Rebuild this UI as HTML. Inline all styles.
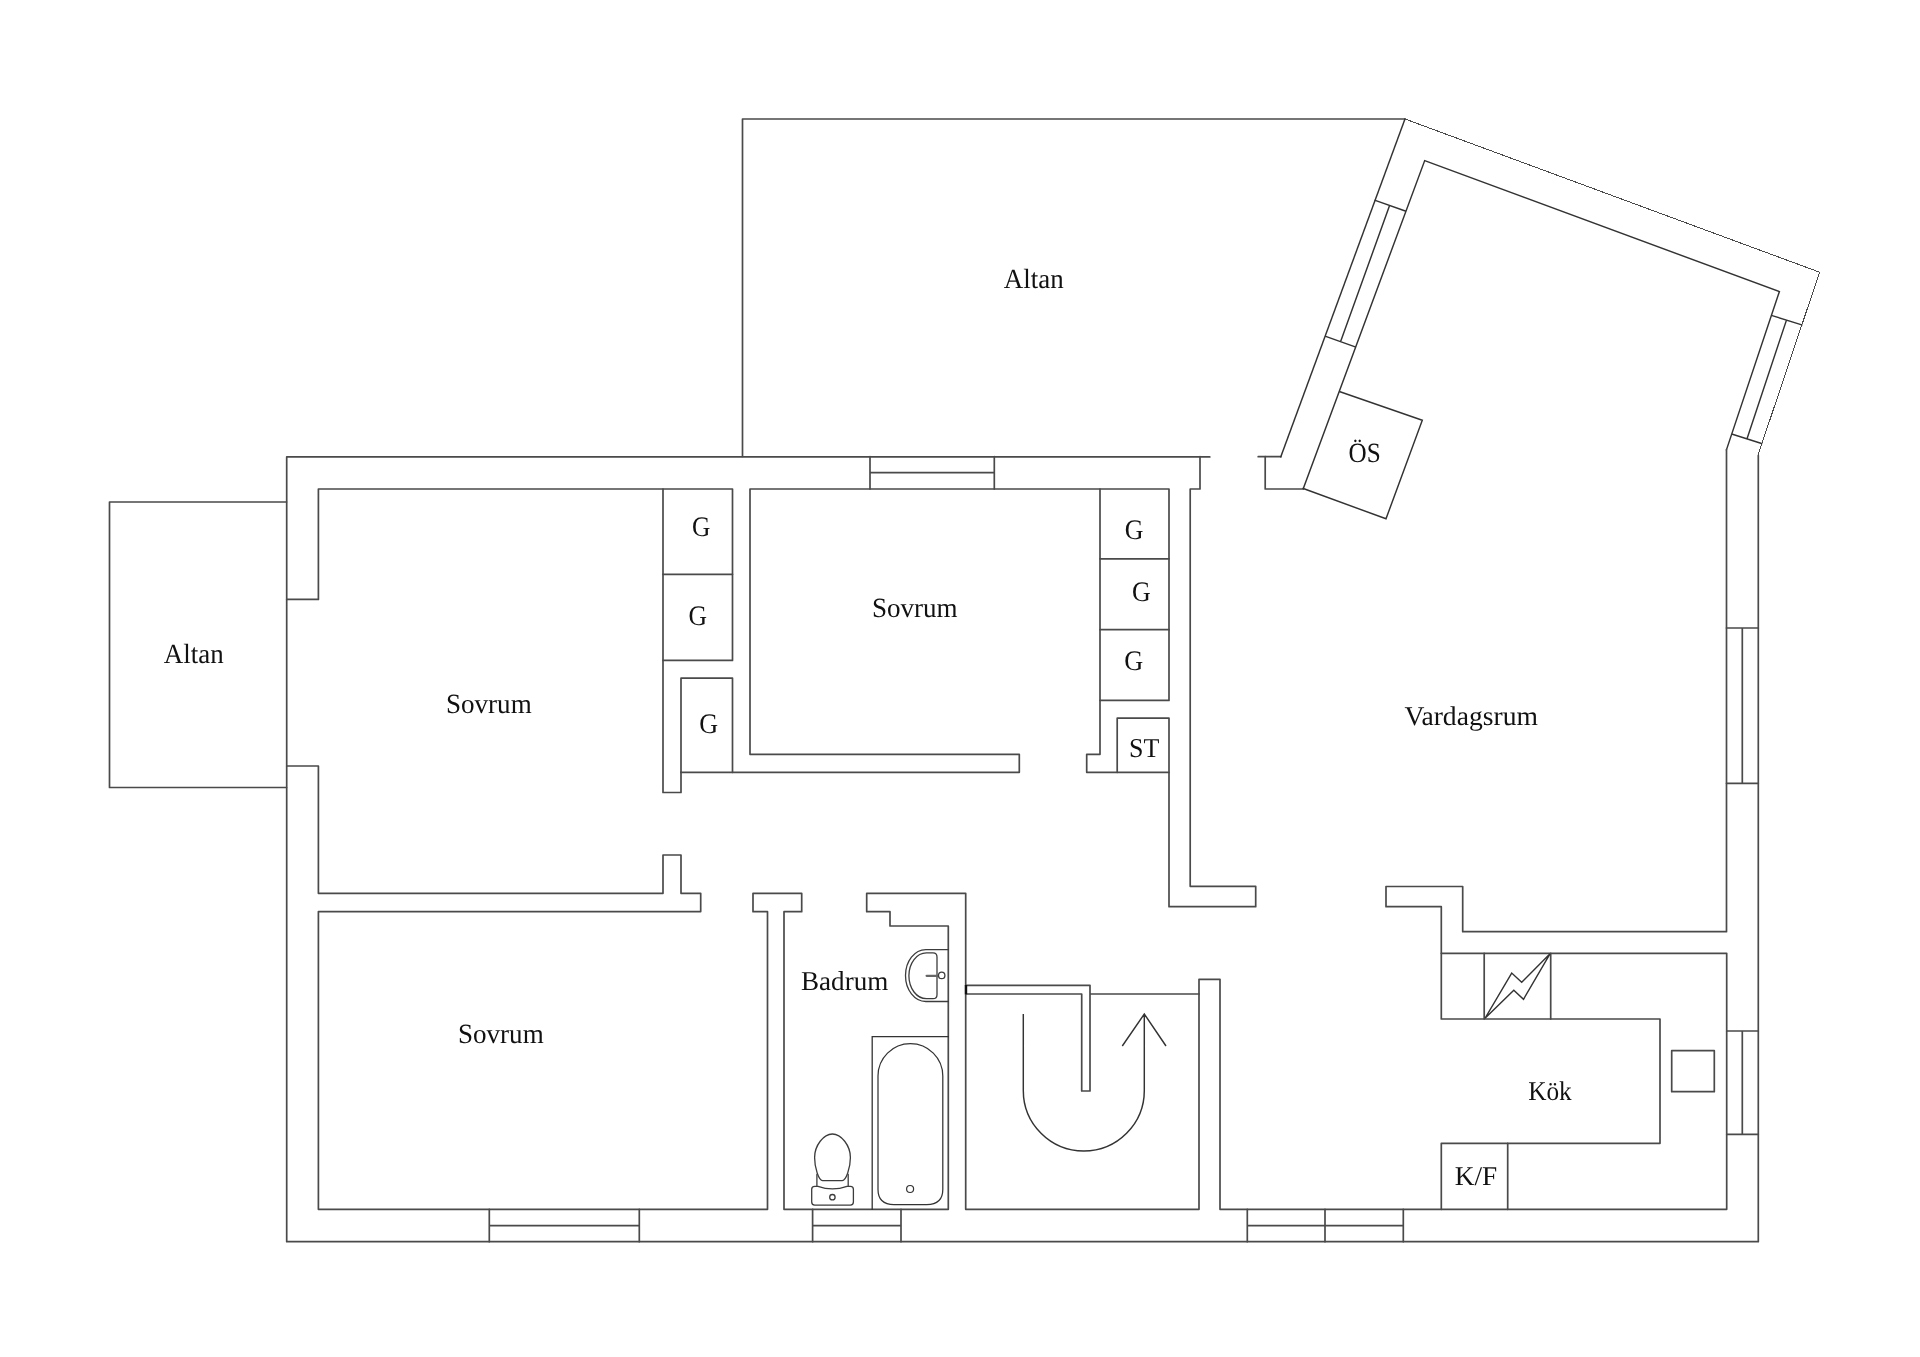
<!DOCTYPE html>
<html lang="sv">
<head>
<meta charset="utf-8">
<title>Planritning</title>
<style>
html,body{margin:0;padding:0;background:#fff;}
body{width:1920px;height:1357px;overflow:hidden;}
svg{display:block;filter:grayscale(1);}
.w{fill:none;stroke:#4a4a4a;stroke-width:1.7;stroke-linecap:round;stroke-linejoin:round;}
.a{fill:none;stroke:#333;stroke-width:1.45;stroke-linecap:square;stroke-linejoin:miter;}
.t{fill:none;stroke:#4a4a4a;stroke-width:1;stroke-linecap:butt;shape-rendering:crispEdges;}
.f{fill:none;stroke:#3c3c3c;stroke-width:1.3;stroke-linecap:round;stroke-linejoin:round;}
text{text-rendering:geometricPrecision;font-family:"Liberation Serif",serif;font-size:27px;fill:#111;}
</style>
</head>
<body>
<svg width="1920" height="1357" viewBox="0 0 1920 1357">
<rect width="1920" height="1357" fill="#fff"/>

<!-- Altan top -->
<path class="w" d="M742.5 456.5V119H1405"/>
<!-- Altan left -->
<path class="w" d="M286.5 502H109.5V787.5H286.5"/>

<!-- outer wall -->
<path class="w" d="M1209.8 456.9H286.7V1241.7H1758.3V455.4"/>
<path class="w" d="M1258.2 456.7H1280.8"/>
<path class="w" d="M1265.2 456.7V489H1303.3"/>
<path class="w" d="M1200 456.7V489H1190.2V886.3H1255.7V906.7H1169V718.2H1117.2V772.3"/>

<!-- angled walls -->
<path class="a" d="M1280.8 456.7L1405 119"/>
<path class="t" d="M1405 119L1819.6 272.2L1757.9 455.4"/>
<path class="a" d="M1303.3 488.5L1424.7 160.6L1779.4 291.6L1726.5 449.7"/>
<!-- left angled window -->
<path class="a" d="M1375.2 200.4L1405.3 211M1325.7 336.4L1355.2 346.9M1389.5 205.8L1340.6 341.6"/>
<!-- right angled window -->
<path class="a" d="M1772.1 315.6L1801.8 324.9M1732.4 434.3L1761.6 443.5M1786.4 320.3L1747 438.8"/>
<!-- ÖS box -->
<path class="a" d="M1340 391.7L1422.3 420.3L1386 518.8L1303.3 488.5"/>

<!-- room 1 (top-left bedroom) + corridor walls -->
<path class="w" d="M286.7 599.4H318.4V489H732.5V660.4H663"/>
<path class="w" d="M681 772.3V678.2H732.5V772.3"/>
<path class="w" d="M663 489V792.5H681V772.3"/>
<path class="w" d="M663 574.3H732.5"/>
<path class="w" d="M286.7 766H318.4V893.3H663V855H681V893.3H700.7V911.6H318.4V1209.3H767.5V911.7H753V893.3H801.7V911.7H784V1209.3H948.3V926H890V911.7H866.7V893.3H965.7V1209.3H1199V979.3H1220V1209.3H1726.7V953.3H1441.3"/>
<!-- middle bedroom -->
<path class="w" d="M1100 700.4H1169V489H750V754.3H1019.3V772.3H681"/>
<path class="w" d="M1100 489V754.3H1086.7V772.3H1169"/>
<path class="w" d="M1100 558.8H1169M1100 629.7H1169"/>
<!-- living room -->
<path class="w" d="M1726.5 449.7V931.7H1462.7V886.5H1386V906.7H1441.3V1019H1660V1143.3H1441.3V1209.3"/>
<path class="w" d="M1484.2 953.3V1019M1550.7 953.3V1019M1507.7 1143.3V1209.3"/>
<rect class="w" x="1671.7" y="1050.7" width="42.6" height="41"/>
<!-- lightning -->
<path class="a" d="M1485 1018.3L1511.7 973.1L1521.7 982.3L1550 953.8L1523.5 999.3L1513.8 990.3Z" style="stroke-linejoin:miter;stroke-width:1.4"/>

<!-- windows -->
<path class="w" d="M870 456.7V489M994.3 456.7V489M870 472.7H994.3"/>
<path class="w" d="M1726.5 628H1758.3M1726.5 783.3H1758.3M1742.3 628V783.3"/>
<path class="w" d="M1726.7 1031H1758.3M1726.7 1134.3H1758.3M1742.3 1031V1134.3"/>
<path class="w" d="M489.3 1209.3V1241.7M639.3 1209.3V1241.7M489.3 1225.7H639.3"/>
<path class="w" d="M812.6 1209.3V1241.7M901 1209.3V1241.7M812.6 1225.7H901"/>
<path class="w" d="M1247.3 1209.3V1241.7M1403.3 1209.3V1241.7M1325 1209.3V1241.7M1247.3 1225.7H1403.3"/>

<!-- stairs -->
<path class="w" d="M965.7 985.3H1090V1091H1081.7V994H965.7M1090 994H1199"/>
<rect x="964.8" y="985" width="2.4" height="9.3" fill="#111"/>
<path class="a" d="M1023.3 1014V1090.5A60.5 60.5 0 0 0 1144.3 1090.5V1014M1122.3 1046L1144.3 1014L1166 1046" style="stroke-linecap:butt"/>

<!-- bathtub -->
<path class="a" d="M948.3 1036.6H872.2V1209.3" style="stroke-width:1.3"/>
<path class="f" d="M878 1076A32.4 32.4 0 0 1 942.8 1076V1189.5Q942.8 1204.5 926.8 1204.5H894Q878 1204.5 878 1189.5Z" style="stroke-width:1.25;stroke:#333"/>
<circle class="f" cx="910.1" cy="1189" r="3.5" style="stroke-width:1.2;stroke:#333"/>
<!-- sink -->
<path class="f" d="M948.3 949.6H925.8A20.3 25.95 0 0 0 925.8 1001.5H948.3"/>
<path class="f" d="M926.4 952.9H933Q937 952.9 937 957V994.7Q937 998.7 933 998.7H926.4A17.5 22.9 0 0 1 926.4 952.9Z"/>
<path d="M926.6 975.8H937.5" stroke="#666" stroke-width="2.2" stroke-linecap="round" fill="none"/>
<circle class="f" cx="941.7" cy="975.4" r="3.2"/>
<!-- toilet -->
<path class="f" d="M822.6 1180.6H842.2C846 1180.6 850.4 1168 850.4 1157.5C850.4 1145.5 841.2 1134 832.4 1134C823.6 1134 814.6 1145.5 814.6 1157.5C814.6 1168 818.8 1180.6 822.6 1180.6Z"/>
<path class="f" d="M816.9 1174.5V1186.3M848.2 1174.5V1186.3"/>
<path class="f" d="M814.7 1186.3H818Q832.4 1191.5 847 1186.3H850.4Q853.4 1186.3 853.4 1189.3V1202.1Q853.4 1205.1 850.4 1205.1H814.7Q811.7 1205.1 811.7 1202.1V1189.3Q811.7 1186.3 814.7 1186.3Z"/>
<circle class="f" cx="832.4" cy="1197.2" r="2.7"/>

<!-- labels -->
<text transform="translate(1003.77 287.6) scale(0.9979 1.03)">Altan</text>
<text transform="translate(163.77 662.6) scale(0.9979 1.03)">Altan</text>
<text transform="translate(446.01 713.4) scale(1.0021 1.03)">Sovrum</text>
<text transform="translate(871.97 616.6) scale(1.0019 1.03)">Sovrum</text>
<text transform="translate(458.01 1043.4) scale(1.0021 1.03)">Sovrum</text>
<text transform="translate(1404.51 725.4) scale(1.0225 1.0)">Vardagsrum</text>
<text transform="translate(801.0 989.6) scale(1.0036 1.01)">Badrum</text>
<text transform="translate(1528.22 1100.2) scale(0.9355 1.0)">Kök</text>
<text transform="translate(1454.80 1184.5) scale(1.0097 1.0)">K/F</text>
<text transform="translate(1348.49 462.0) scale(0.9322 1.03)">ÖS</text>
<text transform="translate(1129.05 756.8) scale(0.9631 1.01)">ST</text>
<text transform="translate(692.05 536.2) scale(0.9399 1.045)">G</text>
<text transform="translate(688.39 624.5) scale(0.9492 1.045)">G</text>
<text transform="translate(699.17 733.3) scale(0.9668 1.045)">G</text>
<text transform="translate(1124.65 538.6) scale(0.9594 1.045)">G</text>
<text transform="translate(1132.06 601.2) scale(0.9596 1.045)">G</text>
<text transform="translate(1124.17 670.0) scale(0.9726 1.045)">G</text>

</svg>
</body>
</html>
